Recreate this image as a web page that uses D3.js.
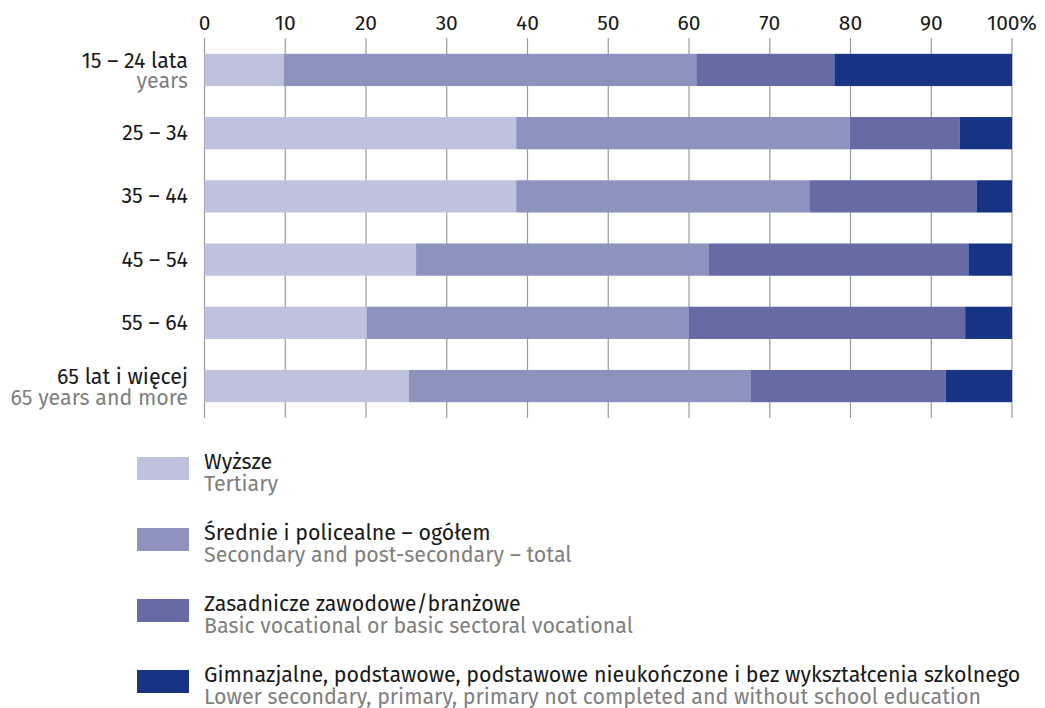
<!DOCTYPE html>
<html><head><meta charset="utf-8">
<script src="https://cdn.jsdelivr.net/npm/d3@7"></script>
<style>body{margin:0;background:#fff;} text{font-family:"Fira Sans","Noto Sans",sans-serif;}</style>
</head><body><svg id="c" width="1045" height="708"></svg>
<script>
const categoriesPL = ["15 – 24 lata", "25 – 34", "35 – 44", "45 – 54", "55 – 64", "65 lat i więcej"];
const categoriesEN = ["years", "", "", "", "", "65 years and more"];
const tertiary   = [9.8, 38.6, 38.6, 26.2, 20.1, 25.3];
const secondary  = [51.1, 41.3, 36.3, 36.2, 39.9, 42.3];
const vocational = [17.1, 13.6, 20.7, 32.2, 34.2, 24.2];
const lower      = [22.0, 6.5, 4.4, 5.4, 5.8, 8.2];
const seriesPL = ["Wyższe", "Średnie i policealne – ogółem", "Zasadnicze zawodowe/branżowe", "Gimnazjalne, podstawowe, podstawowe nieukończone i bez wykształcenia szkolnego"];
const seriesEN = ["Tertiary", "Secondary and post-secondary – total", "Basic vocational or basic sectoral vocational", "Lower secondary, primary, primary not completed and without school education"];
const colors = ["#bfc2de", "#8e92bf", "#676ba5", "#163483"];
const ticks = [0,10,20,30,40,50,60,70,80,90,100];

const FS = 21.4;
const svg = d3.select("#c");
const keys = ["t","s","v","l"];
const data = categoriesPL.map((c,i)=>({cat:c, t:tertiary[i], s:secondary[i], v:vocational[i], l:lower[i]}));
const stack = d3.stack().keys(keys)(data);

const x = d3.scaleLinear().domain([0,100]).range([204.5, 1012]);
const y = d3.scaleBand().domain(categoriesPL).range([38, 418]).paddingInner(0.49).paddingOuter(0.25);

svg.append("g").selectAll("line").data(ticks).join("line")
  .attr("x1", d=>x(d)).attr("x2", d=>x(d)).attr("y1", 38).attr("y2", 418)
  .attr("stroke", "#9a9a9a").attr("stroke-width", 1.2);

svg.append("g").selectAll("text").data(ticks).join("text")
  .attr("x", d=>x(d)).attr("y", 29.5).attr("text-anchor", "middle")
  .attr("font-size", 21).attr("fill", "#1a1a1a")
  .text(d=> d===100 ? "100%" : d);

svg.append("g").selectAll("g").data(stack).join("g")
  .attr("fill", (d,i)=>colors[i])
  .selectAll("rect").data(d=>d).join("rect")
  .attr("x", d=>x(d[0])).attr("width", d=>x(d[1])-x(d[0]))
  .attr("y", d=>y(d.data.cat)).attr("height", y.bandwidth());

const yl = svg.append("g");
categoriesPL.forEach((c,i)=>{
  const cy = y(c) + y.bandwidth()/2;
  if (categoriesEN[i]) {
    yl.append("text").attr("x",188).attr("y",cy-2).attr("text-anchor","end").attr("font-size",FS).attr("fill","#1a1a1a").text(c);
    yl.append("text").attr("x",188).attr("y",cy+18.5).attr("text-anchor","end").attr("font-size",FS).attr("fill","#7f7f7f").text(categoriesEN[i]);
  } else {
    yl.append("text").attr("x",188).attr("y",cy+7).attr("text-anchor","end").attr("font-size",FS).attr("fill","#1a1a1a").text(c);
  }
});

const lg = svg.append("g");
seriesPL.forEach((s,i)=>{
  const top = 457 + i*71;
  lg.append("rect").attr("x",137).attr("y",top).attr("width",52).attr("height",23).attr("fill",colors[i]);
  lg.append("text").attr("x",204).attr("y",top+11.5).attr("font-size",FS).attr("fill","#1a1a1a").text(s);
  lg.append("text").attr("x",204).attr("y",top+33.5).attr("font-size",FS).attr("fill","#7f7f7f").text(seriesEN[i]);
});
</script></body></html>
